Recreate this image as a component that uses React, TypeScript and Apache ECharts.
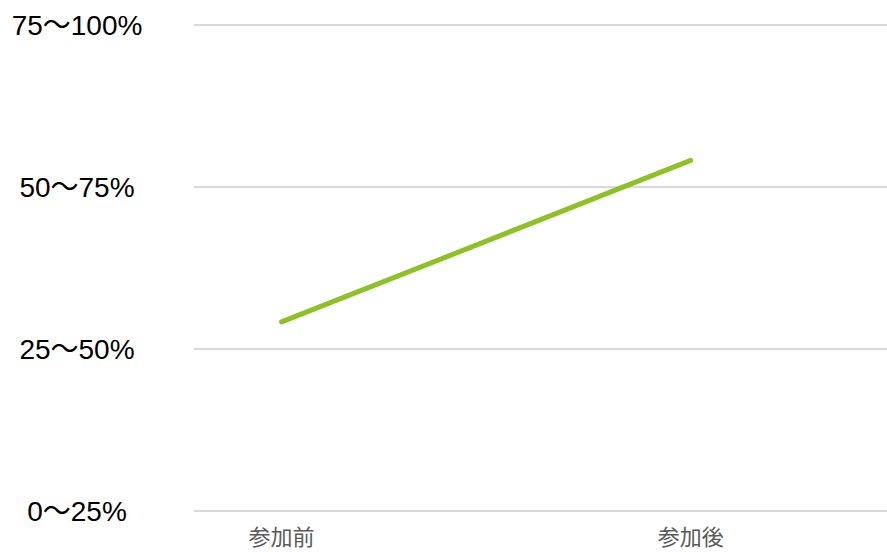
import React, { useEffect, useRef } from "react";
import * as echarts from "echarts";

const categories = ["参加前", "参加後"];
const yTickLabels = ["0～25%", "25～50%", "50～75%", "75～100%"];
const seriesValues = [1.167, 2.164];

export default function App() {
  const ref = useRef<HTMLDivElement>(null);
  useEffect(() => {
    if (!ref.current) return;
    const chart = echarts.init(ref.current, null, { renderer: "svg" });
    chart.setOption({
      animation: false,
      grid: { left: 194, right: 0, top: 25, bottom: 41, containLabel: false },
      xAxis: {
        type: "value",
        min: -0.214,
        max: 1.48,
        axisLine: { show: false },
        axisTick: { show: false },
        splitLine: { show: false },
        axisLabel: {
          customValues: categories.map((_, i) => i),
          formatter: (v: number) => categories[Math.round(v)] ?? "",
          color: "#595959",
          fontSize: 22,
          lineHeight: 20,
          fontFamily: "Noto Sans CJK JP",
          margin: 14,
        },
      },
      yAxis: {
        type: "value",
        min: 0,
        max: yTickLabels.length - 1,
        interval: 1,
        axisLine: { show: false },
        axisTick: { show: false },
        splitLine: { lineStyle: { color: "#d9d9d9", width: 2 } },
        axisLabel: {
          formatter: (v: number) => yTickLabels[Math.round(v)] ?? "",
          color: "#000000",
          fontSize: 28,
          fontFamily: "'Liberation Sans', 'Noto Sans CJK JP'",
          align: "center",
          margin: 117,
        },
      },
      series: [
        {
          type: "line",
          data: seriesValues.map((v, i) => [i, v]),
          showSymbol: false,
          symbol: "none",
          lineStyle: { color: "#8cc224", width: 5, cap: "round" },
        },
      ],
    });
    return () => chart.dispose();
  }, []);
  return (
    <div
      ref={ref}
      style={{ position: "fixed", left: 0, top: 0, width: 887, height: 552, background: "#fff" }}
    />
  );
}
